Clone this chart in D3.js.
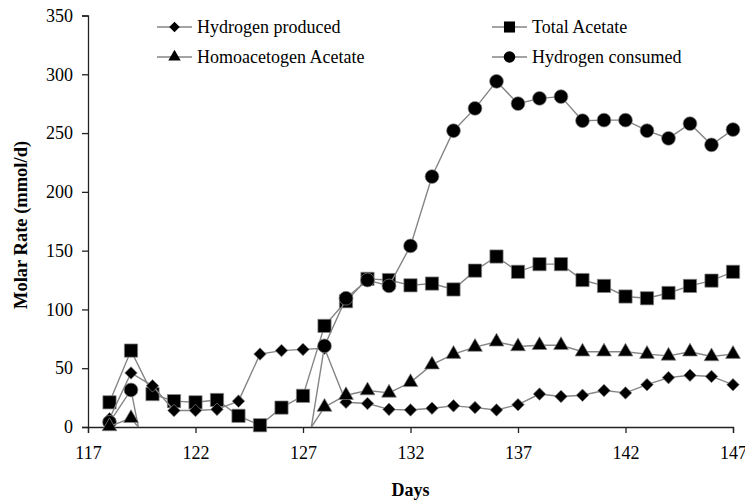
<!DOCTYPE html>
<html>
<head>
<meta charset="utf-8">
<script src="https://cdn.jsdelivr.net/npm/d3@7"></script>
<style>
    body { margin: 0; background: #fff; }
    svg text { font-family: "Liberation Serif", "Times New Roman", serif; fill: #000; }
</style>
</head>
<body>
<div id="chart"></div>
<script>
// days on the x axis
var days = d3.range(118, 148);

// null where the point is below the axis and cannot be read
var hydrogenProduced = [7, 46, 35, 14, 14, 15, 22, 62, 65, 66, 67, 21, 20, 15, 14.5, 16, 18, 16.5, 14.5, 19, 28, 26, 27, 31, 29, 36, 42, 44, 43, 36];
var totalAcetate = [21, 65, 28, 22, 21, 23, 9.5, 1.5, 16.5, 26.5, 86, 107, 126, 125, 120.5, 122, 117, 133, 145, 132, 138.5, 138.5, 125, 120, 111, 109.5, 114, 120, 124.5, 132];
// the values at 120 and 127 lie below 0; estimated from where the lines leave the axis
var homoacetogenAcetate = [0.5, 7.5, -15, null, null, null, null, null, null, -11, 17, 27, 31, 29, 38, 53, 62, 68, 72.5, 68.5, 69.5, 69.5, 64, 64, 64, 62, 60.5, 64, 60, 62];
var hydrogenConsumed = [4, 31.5, -60, null, null, null, null, null, null, -44, 69, 109.5, 125, 120, 154, 213, 252, 271, 294, 275, 279.5, 281, 260.5, 261, 261, 252, 245.5, 258, 240, 253];

var xTicks = [117, 122, 127, 132, 137, 142, 147];
var yTicks = [0, 50, 100, 150, 200, 250, 300, 350];

var seriesNames = ["Hydrogen produced", "Total Acetate", "Homoacetogen Acetate", "Hydrogen consumed"];

var width = 745, height = 502;
var margin = { left: 88, right: 12, top: 15.5, bottom: 75 };
var serif = '"Liberation Serif", "Times New Roman", serif';

var svg = d3.select("#chart")
    .append("svg")
    .attr("width", width)
    .attr("height", height);

var x = d3.scaleLinear().domain([117, 147]).range([margin.left, width - margin.right]);
var y = d3.scaleLinear().domain([0, 350]).range([height - margin.bottom, margin.top]);

var lineColor = "#858585";

// marker shape and area per series
var symbolTypes = {
    "Hydrogen produced": [d3.symbolDiamond2, 100],
    "Total Acetate": [d3.symbolSquare, 175],
    "Homoacetogen Acetate": [d3.symbolTriangle, 95],
    "Hydrogen consumed": [d3.symbolCircle, 150]
};

function marker(name, scale) {
    var t = symbolTypes[name];
    return d3.symbol().type(t[0]).size(t[1] * scale)();
}

var seriesValues = {
    "Hydrogen produced": hydrogenProduced,
    "Total Acetate": totalAcetate,
    "Homoacetogen Acetate": homoacetogenAcetate,
    "Hydrogen consumed": hydrogenConsumed
};

svg.append("clipPath")
    .attr("id", "plot-clip")
    .append("rect")
    .attr("x", x(117))
    .attr("y", y(350))
    .attr("width", x(147) - x(117))
    .attr("height", y(0) - y(350));

// axes
var yAxis = d3.axisLeft(y).tickValues(yTicks).tickSize(6).tickPadding(9);
var xAxis = d3.axisBottom(x).tickValues(xTicks).tickSize(6).tickPadding(12);

var gy = svg.append("g")
    .attr("transform", "translate(" + x(117) + ",0)")
    .call(yAxis);
var gx = svg.append("g")
    .attr("transform", "translate(0," + y(0) + ")")
    .call(xAxis);

[gx, gy].forEach(function (g) {
    g.attr("font-family", null);
    g.select(".domain").attr("stroke", "#222").attr("stroke-width", 1.3);
    g.selectAll(".tick line").attr("stroke", "#222").attr("stroke-width", 1.3);
    g.selectAll(".tick text")
        .style("font-family", serif)
        .attr("font-size", 18)
        .attr("fill", "#000");
});
gx.selectAll(".tick text").attr("dy", "0.75em");

// series, drawn with the acetate squares at the bottom
var drawOrder = ["Total Acetate", "Hydrogen produced", "Hydrogen consumed", "Homoacetogen Acetate"];

drawOrder.forEach(function (name) {
    var data = days.map(function (d, i) { return { day: d, value: seriesValues[name][i] }; });

    var line = d3.line()
        .defined(function (d) { return d.value !== null; })
        .x(function (d) { return x(d.day); })
        .y(function (d) { return y(d.value); });

    var g = svg.append("g").attr("class", "series");

    g.append("path")
        .datum(data)
        .attr("clip-path", "url(#plot-clip)")
        .attr("fill", "none")
        .attr("stroke", lineColor)
        .attr("stroke-width", 1.4)
        .attr("d", line);

    g.selectAll("path.marker")
        .data(data.filter(function (d) { return d.value !== null && d.value >= 0; }))
        .enter()
        .append("path")
        .attr("class", "marker")
        .attr("transform", function (d) { return "translate(" + x(d.day) + "," + y(d.value) + ")"; })
        .attr("d", marker(name, 1))
        .attr("fill", "#000")
        .attr("stroke", lineColor)
        .attr("stroke-width", 0.7);
});

// legend, two columns
var legendPos = [
    { name: "Hydrogen produced", x: 157, y: 27 },
    { name: "Total Acetate", x: 492, y: 27 },
    { name: "Homoacetogen Acetate", x: 157, y: 57 },
    { name: "Hydrogen consumed", x: 492, y: 57 }
];

var legend = svg.selectAll("g.legend")
    .data(legendPos)
    .enter().append("g")
    .attr("class", "legend")
    .attr("transform", function (d) { return "translate(" + d.x + "," + d.y + ")"; });

legend.append("line")
    .attr("x1", 0)
    .attr("x2", 35)
    .attr("stroke", lineColor)
    .attr("stroke-width", 1.4);

legend.append("path")
    .attr("transform", "translate(17.5,0)")
    .attr("d", function (d) { return marker(d.name, 0.7); })
    .attr("fill", "#000");

legend.append("text")
    .attr("x", 40)
    .attr("y", 6)
    .style("font-family", serif)
    .attr("font-size", 18)
    .text(function (d) { return d.name; });

// axis titles
svg.append("text")
    .attr("x", (x(117) + x(147)) / 2)
    .attr("y", 496)
    .attr("text-anchor", "middle")
    .style("font-family", serif)
    .attr("font-size", 18)
    .attr("font-weight", "bold")
    .text("Days");

svg.append("text")
    .attr("transform", "translate(27,225) rotate(-90)")
    .attr("text-anchor", "middle")
    .style("font-family", serif)
    .attr("font-size", 18.5)
    .attr("font-weight", "bold")
    .text("Molar Rate (mmol/d)");
</script>
</body>
</html>
